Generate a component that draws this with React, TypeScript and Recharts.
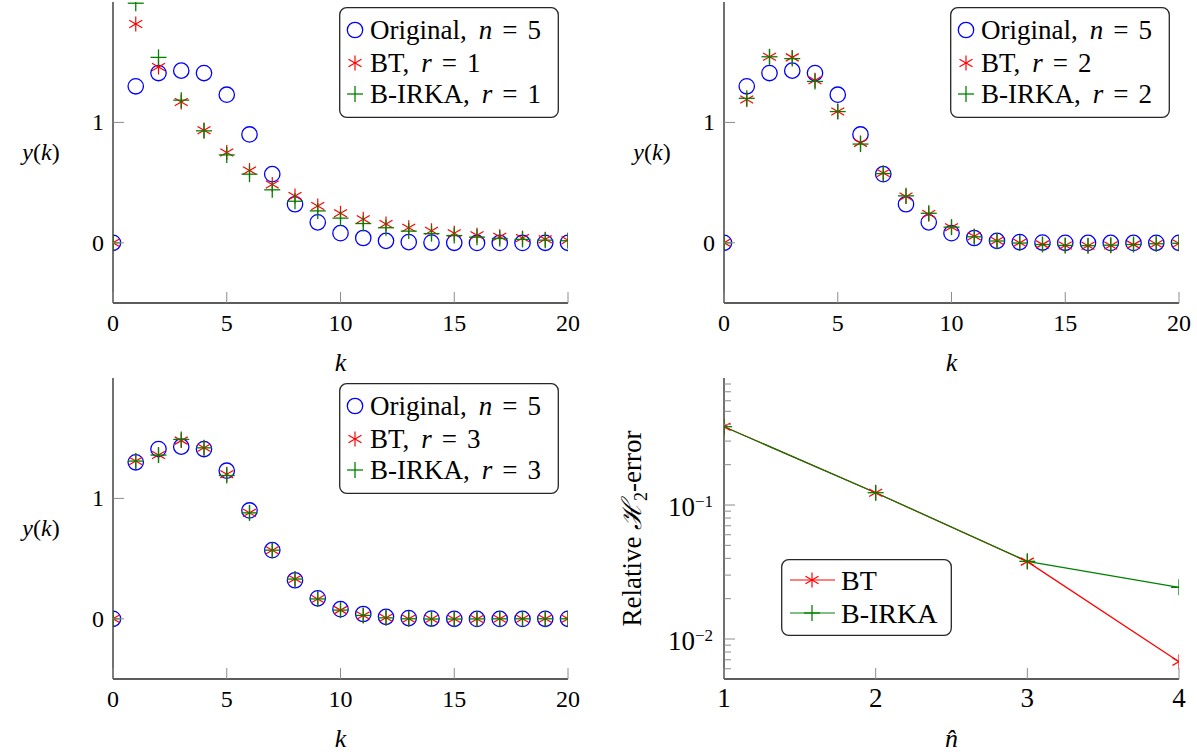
import React from 'react'
import { ScatterChart, Scatter, LineChart, Line, XAxis, YAxis, Legend, Label } from 'recharts'

// Impulse responses y(k) of the original system and of the reduced models,
// plus the relative H2 error of both reduction methods (log axis).

const FONT = "'Liberation Serif', 'DejaVu Serif', serif"
const TXT = { fontFamily: FONT }
const BLUE = '#0000ff'
const RED = '#ff0000'
const GREEN = '#008000'
const FRAME = '#262626'
const TICK = '#8c8c8c'

// ---- data ----
const kSteps = [0, 1, 2, 3, 4, 5, 6, 7, 8, 9, 10, 11, 12, 13, 14, 15, 16, 17, 18, 19, 20]
const original = [0, 1.3, 1.41, 1.43, 1.41, 1.23, 0.9, 0.57, 0.32, 0.17, 0.08, 0.04, 0.016, 0.006, 0.002, 0, -0.001, -0.001, -0.001, 0, 0]

const btR1 = [0, 1.817, 1.46, 1.17, 0.935, 0.75, 0.6, 0.485, 0.388, 0.305, 0.245, 0.195, 0.157, 0.125, 0.1, 0.079, 0.063, 0.05, 0.039, 0.03, 0.022]
const birkaR1 = [0, 1.99, 1.54, 1.185, 0.93, 0.73, 0.57, 0.44, 0.345, 0.265, 0.205, 0.16, 0.125, 0.097, 0.076, 0.06, 0.047, 0.036, 0.028, 0.022, 0.017]

const btR2 = [0, 1.19, 1.545, 1.54, 1.35, 1.09, 0.83, 0.58, 0.385, 0.24, 0.13, 0.055, 0.017, 0, -0.013, -0.022, -0.025, -0.022, -0.015, -0.01, -0.005]
const birkaR2 = [0, 1.2, 1.545, 1.53, 1.34, 1.09, 0.82, 0.575, 0.39, 0.245, 0.13, 0.05, 0.015, -0.002, -0.014, -0.022, -0.024, -0.02, -0.014, -0.008, -0.004]

const btR3 = [0, 1.31, 1.36, 1.48, 1.42, 1.2, 0.88, 0.57, 0.33, 0.165, 0.072, 0.028, 0.008, 0, -0.002, -0.002, -0.001, 0, 0, 0, 0]
const birkaR3 = [0, 1.31, 1.36, 1.49, 1.42, 1.19, 0.88, 0.57, 0.33, 0.165, 0.072, 0.028, 0.008, 0, -0.002, -0.002, -0.001, 0, 0, 0, 0]

const nHat = [1, 2, 3, 4]
const errBT = [0.384, 0.1236, 0.0378, 0.00678]
const errBIRKA = [0.384, 0.1236, 0.038, 0.0243]

// ---- ticks ----
const kTicks = [0, 5, 10, 15, 20]
const yTicks = [0, 1]
const nTicks = [1, 2, 3, 4]
const errMajor = [0.01, 0.1]
const errMinor = [0.006, 0.007, 0.008, 0.009, 0.02, 0.03, 0.04, 0.05, 0.06, 0.07, 0.08, 0.09, 0.2, 0.3, 0.4, 0.5, 0.6, 0.7, 0.8]

// chart box shared by all four panels
const BOX_W = 586
const BOX_H = 376
const MARGIN = { top: 2, right: 18, bottom: 2, left: 33 }
const Y_AXIS_W = 80
const X_AXIS_H = 71

// ---- markers ----
function Ring({ cx, cy, r = 7.7 }: any) {
  return <circle cx={cx} cy={cy} r={r} fill="none" stroke={BLUE} strokeWidth={1.3} />
}

function Star({ cx, cy, s = 7.5 }: any) {
  const dx = s * Math.cos(Math.PI / 6)
  const dy = s * Math.sin(Math.PI / 6)
  return (
    <g stroke={RED} strokeWidth={1.2}>
      <line x1={cx} y1={cy - s} x2={cx} y2={cy + s} />
      <line x1={cx - dx} y1={cy - dy} x2={cx + dx} y2={cy + dy} />
      <line x1={cx - dx} y1={cy + dy} x2={cx + dx} y2={cy - dy} />
    </g>
  )
}

function Plus({ cx, cy, s = 8 }: any) {
  return (
    <g stroke={GREEN} strokeWidth={1.3}>
      <line x1={cx} y1={cy - s} x2={cx} y2={cy + s} />
      <line x1={cx - s} y1={cy} x2={cx + s} y2={cy} />
    </g>
  )
}

// ---- ticks drawn inside the frame ----
function BottomTick({ x, y, payload, fontSize = 24, len = 11 }: any) {
  return (
    <g>
      <line x1={x} y1={y} x2={x} y2={y - len} stroke={TICK} strokeWidth={1} />
      <text x={x} y={y + 28} textAnchor="middle" style={TXT} fontSize={fontSize} fill="#000">
        {payload.value}
      </text>
    </g>
  )
}

function LeftTick({ x, y, payload }: any) {
  return (
    <g>
      <line x1={x} y1={y} x2={x + 11} y2={y} stroke={TICK} strokeWidth={1} />
      <text x={x - 9} y={y + 8} textAnchor="end" style={TXT} fontSize={24} fill="#000">
        {payload.value}
      </text>
    </g>
  )
}

function LogTick({ x, y, payload }: any) {
  const major = errMajor.includes(payload.value)
  const exp = Math.round(Math.log10(payload.value))
  return (
    <g>
      <line x1={x} y1={y} x2={x + (major ? 11 : 7)} y2={y} stroke={TICK} strokeWidth={1} />
      {major && (
        <text x={x - 11} y={y + 11} textAnchor="end" style={TXT} fontSize={27} fill="#000">
          10<tspan dy={-9.5} fontSize={17}>{'\u2212' + Math.abs(exp)}</tspan>
        </text>
      )}
    </g>
  )
}

function TopTick({ x, y }: any) {
  return <line x1={x} y1={y} x2={x} y2={y + 11} stroke={TICK} strokeWidth={1} />
}

function RightTick({ x, y, payload }: any) {
  const len = errMinor.includes(payload.value) ? 7 : 11
  return <line x1={x} y1={y} x2={x - len} y2={y} stroke={TICK} strokeWidth={1} />
}

// ---- legends ----
function ResponseLegend({ r }: { r: number }) {
  const rows = [
    { mark: <Ring cx={16} cy={23} />, name: 'Original,', v: 'n', val: '5', y: 23 },
    { mark: <Star cx={16} cy={56} />, name: 'BT,', v: 'r', val: String(r), y: 56 },
    { mark: <Plus cx={16} cy={87} />, name: 'B-IRKA,', v: 'r', val: String(r), y: 87 },
  ]
  return (
    <svg width={220} height={111} style={{ display: 'block' }}>
      <rect x={0.7} y={0.7} width={218.6} height={109.6} rx={7} fill="#fff" stroke={FRAME} strokeWidth={1.3} />
      {rows.map((row) => (
        <g key={row.name}>
          {row.mark}
          <text x={31} y={row.y + 9} style={TXT} fontSize={27} fill="#000">
            {row.name}
            <tspan dx={12} fontStyle="italic">{row.v}</tspan>
            <tspan dx={10}>=</tspan>
            <tspan dx={10}>{row.val}</tspan>
          </text>
        </g>
      ))}
    </svg>
  )
}

function ErrorLegend() {
  return (
    <svg width={171} height={77} style={{ display: 'block' }}>
      <rect x={0.7} y={0.7} width={169.6} height={75.6} rx={7} fill="#fff" stroke={FRAME} strokeWidth={1.3} />
      <line x1={9} y1={21} x2={54} y2={21} stroke={RED} strokeWidth={1.2} />
      <Star cx={31} cy={21} />
      <text x={60} y={31} style={TXT} fontSize={28} fill="#000">BT</text>
      <line x1={9} y1={54} x2={54} y2={54} stroke={GREEN} strokeWidth={1.2} />
      <Plus cx={31} cy={54} />
      <text x={60} y={64} style={TXT} fontSize={28} fill="#000">B-IRKA</text>
    </svg>
  )
}

// ---- axis labels ----
function YkLabel({ viewBox }: any) {
  const cx = viewBox.x + viewBox.width - 72
  const cy = viewBox.y + viewBox.height / 2
  return (
    <text x={cx} y={cy + 7} textAnchor="middle" style={TXT} fontSize={24} fill="#000">
      <tspan fontStyle="italic">y</tspan>(<tspan fontStyle="italic">k</tspan>)
    </text>
  )
}

function XLabel({ viewBox, text }: any) {
  const cx = viewBox.x + viewBox.width / 2
  return (
    <text x={cx} y={viewBox.y + 68} textAnchor="middle" style={TXT} fontSize={26} fontStyle="italic" fill="#000">
      {text}
    </text>
  )
}

function ErrLabel({ viewBox }: any) {
  const cx = viewBox.x + viewBox.width - 92
  const cy = viewBox.y + viewBox.height / 2
  return (
    <text x={cx} y={cy} transform={`rotate(-90 ${cx} ${cy})`} dy={9} textAnchor="middle" style={TXT} fontSize={27} fill="#000">
      Relative <tspan fontStyle="italic">{'\u210B'}</tspan>
      <tspan dy={6} fontSize={18}>2</tspan>
      <tspan dy={-6}>-error</tspan>
    </text>
  )
}

// ---- panels ----
const toPoints = (vals: number[]) => kSteps.map((k, i) => ({ k, y: vals[i] }))

function ResponsePanel({ left, top, r, bt, birka }: { left: number; top: number; r: number; bt: number[]; birka: number[] }) {
  return (
    <div style={{ position: 'absolute', left, top }}>
      <ScatterChart width={BOX_W} height={BOX_H} margin={MARGIN}>
        <XAxis dataKey="k" type="number" domain={[0, 20]} ticks={kTicks} interval={0} allowDataOverflow
          height={X_AXIS_H} tickSize={0} tickMargin={0} tickLine={false}
          axisLine={{ stroke: FRAME, strokeWidth: 1.3 }} tick={<BottomTick />}>
          <Label content={<XLabel text="k" />} />
        </XAxis>
        <XAxis xAxisId="top" orientation="top" dataKey="k" type="number" domain={[0, 20]} ticks={kTicks} interval={0}
          allowDataOverflow height={0} tickSize={0} tickMargin={0} tickLine={false}
          axisLine={{ stroke: FRAME, strokeWidth: 1.3 }} tick={<TopTick />} />
        <YAxis dataKey="y" type="number" domain={[-0.5, 2]} ticks={yTicks} interval={0} allowDataOverflow
          width={Y_AXIS_W} tickSize={0} tickMargin={0} tickLine={false}
          axisLine={{ stroke: FRAME, strokeWidth: 1.3 }} tick={<LeftTick />}>
          <Label content={<YkLabel />} />
        </YAxis>
        <YAxis yAxisId="right" orientation="right" dataKey="y" type="number" domain={[-0.5, 2]} ticks={yTicks} interval={0}
          allowDataOverflow width={0} tickSize={0} tickMargin={0} tickLine={false}
          axisLine={{ stroke: FRAME, strokeWidth: 1.3 }} tick={<RightTick />} />
        <Scatter name="Original" data={toPoints(original)} isAnimationActive={false}
          shape={(p: any) => <Ring cx={p.cx} cy={p.cy} />} />
        <Scatter name="BT" data={toPoints(bt)} isAnimationActive={false}
          shape={(p: any) => <Star cx={p.cx} cy={p.cy} />} />
        <Scatter name="B-IRKA" data={toPoints(birka)} isAnimationActive={false}
          shape={(p: any) => <Plus cx={p.cx} cy={p.cy} />} />
        <Legend layout="horizontal" verticalAlign="middle" align="center"
          wrapperStyle={{ position: 'absolute', left: 339, top: 7, width: 220, height: 111 }}
          content={() => <ResponseLegend r={r} />} />
      </ScatterChart>
    </div>
  )
}

function ErrorPanel({ left, top }: { left: number; top: number }) {
  const rows = nHat.map((n, i) => ({ n, bt: errBT[i], birka: errBIRKA[i] }))
  const logTicks = [...errMinor, ...errMajor].sort((a, b) => a - b)
  return (
    <div style={{ position: 'absolute', left, top }}>
      <LineChart width={BOX_W} height={BOX_H} margin={MARGIN} data={rows}>
        <XAxis dataKey="n" type="number" domain={[1, 4]} ticks={nTicks} interval={0} allowDataOverflow
          height={X_AXIS_H} tickSize={0} tickMargin={0} tickLine={false}
          axisLine={{ stroke: FRAME, strokeWidth: 1.3 }} tick={<BottomTick fontSize={27} />}>
          <Label content={<XLabel text={'n\u0302'} />} />
        </XAxis>
        <XAxis xAxisId="top" orientation="top" dataKey="n" type="number" domain={[1, 4]} ticks={nTicks} interval={0}
          allowDataOverflow height={0} tickSize={0} tickMargin={0} tickLine={false}
          axisLine={{ stroke: FRAME, strokeWidth: 1.3 }} tick={<TopTick />} />
        <YAxis type="number" scale="log" domain={[0.00503, 0.887]} ticks={logTicks} interval={0} allowDataOverflow
          width={Y_AXIS_W} tickSize={0} tickMargin={0} tickLine={false}
          axisLine={{ stroke: FRAME, strokeWidth: 1.3 }} tick={<LogTick />}>
          <Label content={<ErrLabel />} />
        </YAxis>
        <YAxis yAxisId="right" orientation="right" type="number" scale="log" domain={[0.00503, 0.887]} ticks={logTicks}
          interval={0} allowDataOverflow width={0} tickSize={0} tickMargin={0} tickLine={false}
          axisLine={{ stroke: FRAME, strokeWidth: 1.3 }} tick={<RightTick />} />
        <Line dataKey="bt" name="BT" stroke={RED} strokeWidth={1.2} isAnimationActive={false}
          dot={(p: any) => <Star key={'bt' + p.index} cx={p.cx} cy={p.cy} />} />
        <Line dataKey="birka" name="B-IRKA" stroke={GREEN} strokeWidth={1.2} isAnimationActive={false}
          dot={(p: any) => <Plus key={'bi' + p.index} cx={p.cx} cy={p.cy} />} />
        <Legend layout="horizontal" verticalAlign="middle" align="center"
          wrapperStyle={{ position: 'absolute', left: 170, top: 183, width: 171, height: 77 }}
          content={() => <ErrorLegend />} />
      </LineChart>
    </div>
  )
}

export default function App() {
  return (
    <div style={{ position: 'absolute', left: 0, top: 0, width: 1197, height: 752, background: '#fff', overflow: 'hidden', fontFamily: FONT }}>
      <ResponsePanel left={0} top={0} r={1} bt={btR1} birka={birkaR1} />
      <ResponsePanel left={611} top={0} r={2} bt={btR2} birka={birkaR2} />
      <ResponsePanel left={0} top={376} r={3} bt={btR3} birka={birkaR3} />
      <ErrorPanel left={611} top={376} />
    </div>
  )
}
